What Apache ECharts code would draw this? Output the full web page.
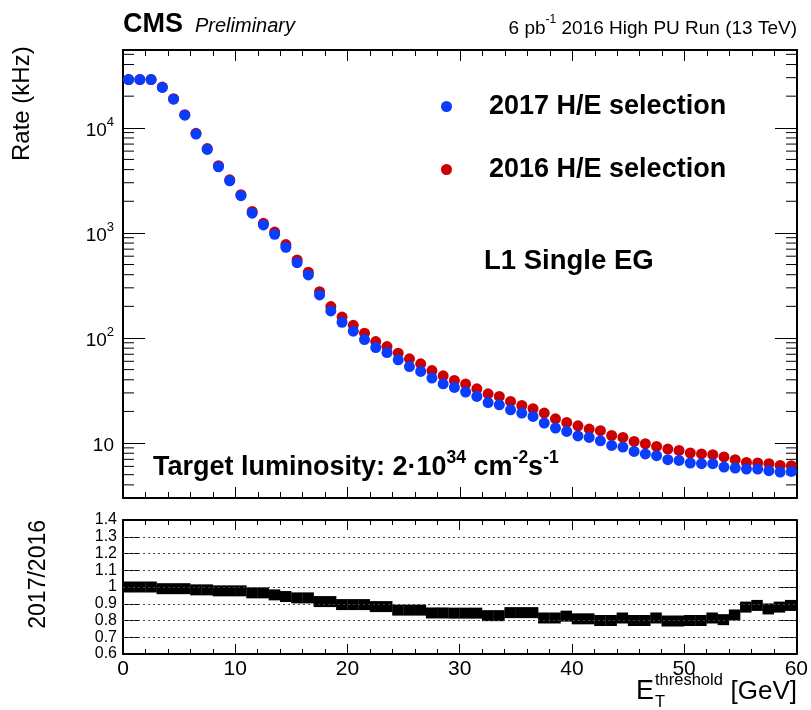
<!DOCTYPE html>
<html>
<head>
<meta charset="utf-8">
<script src="https://cdn.jsdelivr.net/npm/echarts@6/dist/echarts.min.js"></script>
<style>html,body{margin:0;padding:0;background:#fff}#c{width:811px;height:710px}</style>
</head>
<body>
<div id="c"></div>
<script>
// ---- data ----
const etBins = [0.5,1.5,2.5,3.5,4.5,5.5,6.5,7.5,8.5,9.5,10.5,11.5,12.5,13.5,14.5,15.5,16.5,17.5,18.5,19.5,
  20.5,21.5,22.5,23.5,24.5,25.5,26.5,27.5,28.5,29.5,30.5,31.5,32.5,33.5,34.5,35.5,36.5,37.5,38.5,39.5,
  40.5,41.5,42.5,43.5,44.5,45.5,46.5,47.5,48.5,49.5,50.5,51.5,52.5,53.5,54.5,55.5,56.5,57.5,58.5,59.5];
const rate2017 = [28800,28800,28800,24200,18700,13200,8710,6230,4260,3130,2260,1540,1190,970,730,521,398,257,181,141,
  116,96.6,81,72.6,61.9,53.5,48,41.5,36.6,33.8,30.6,27.8,24.3,23.1,20.7,19.3,17.9,15.5,13.9,12.9,
  11.7,11.3,10.5,9.5,9.16,8.32,7.87,7.58,6.95,6.84,6.46,6.36,6.36,5.91,5.78,5.66,5.66,5.46,5.30,5.37];
const rate2016 = [28800,28800,28800,24400,18900,13330,8860,6340,4360,3200,2310,1600,1233,1018,774,552,422,276,199,158,
  132,111,92.5,82.8,71.7,63.3,56.7,49,43.6,39.4,36.4,32.8,29.4,27.8,24.9,22.8,21.2,19.3,17.0,15.7,
  14.6,13.6,13.1,11.8,11.3,10.35,9.85,9.29,8.77,8.51,8.04,7.87,7.75,7.37,6.94,6.54,6.46,6.36,6.12,6.08];
const ratio = [1.0,1.0,1.0,0.99,0.99,0.99,0.983,0.983,0.977,0.977,0.977,0.965,0.965,0.953,0.943,0.935,0.935,0.913,0.913,0.895,
  0.895,0.895,0.883,0.883,0.862,0.862,0.862,0.845,0.845,0.844,0.844,0.844,0.829,0.829,0.847,0.847,0.847,0.815,0.815,0.826,
  0.81,0.81,0.80,0.80,0.815,0.80,0.80,0.815,0.797,0.797,0.80,0.80,0.815,0.805,0.833,0.88,0.89,0.869,0.88,0.89];
const seriesNames = ['2017 H/E selection', '2016 H/E selection'];
const logMajorLabels = [10, 100, 1000, 10000];
const logMinorTicks = [4,5,6,7,8,9,20,30,40,50,60,70,80,90,200,300,400,500,600,700,800,900,
  2000,3000,4000,5000,6000,7000,8000,9000,20000,30000,40000,50000];
const ratioGridValues = [0.7,0.8,0.9,1.0,1.1,1.2,1.3];

// ---- chart ----
const F = "'Liberation Sans', Arial, Helvetica, sans-serif";
const chart = echarts.init(document.getElementById('c'), null, {renderer: 'canvas'});

const axisLine = {show: true, onZero: false, lineStyle: {color: '#000', width: 2}};
function xAx(grid, pos, labels, tl, mtl) {
  return {
    type: 'value', gridIndex: grid, position: pos, min: 0, max: 60, interval: 10,
    axisLine: axisLine,
    axisTick: {show: true, inside: true, length: tl, lineStyle: {color: '#000', width: 1}},
    minorTick: {show: true, splitNumber: 5, length: mtl, lineStyle: {color: '#000', width: 1}},
    axisLabel: labels ? {show: true, fontFamily: F, fontSize: 21, color: '#000', margin: 5, interval: 0,
                         showMinLabel: true, showMaxLabel: true} : {show: false},
    splitLine: {show: false}
  };
}
function logAx(pos, labels) {
  return {
    type: 'log', logBase: 10, gridIndex: 0, position: pos, min: 3, max: 55000,
    axisLine: axisLine,
    axisTick: {show: true, inside: true, length: 22, lineStyle: {color: '#000', width: 1}},
    axisLabel: labels ? {
      show: true, margin: 9, color: '#000', fontFamily: F,
      showMinLabel: false, showMaxLabel: false,
      formatter: function (v) {
        const e = Math.round(Math.log10(v));
        if (Math.abs(Math.log10(v) - e) > 1e-6 || logMajorLabels.indexOf(Math.pow(10, e)) < 0) return '';
        if (e === 1) return '{b|10}';
        return '{b|10}{s|' + e + '}';
      },
      rich: {
        b: {fontSize: 19, fontFamily: F, color: '#000', lineHeight: 24, verticalAlign: 'bottom'},
        s: {fontSize: 13, fontFamily: F, color: '#000', lineHeight: 12, verticalAlign: 'top'}
      }
    } : {show: false},
    splitLine: {show: false}
  };
}
function ratioAx(pos, labels) {
  return {
    type: 'value', gridIndex: 1, position: pos, min: 0.6, max: 1.4, interval: 0.1,
    axisLine: axisLine,
    axisTick: {show: true, inside: true, length: 16, lineStyle: {color: '#000', width: 1}},
    axisLabel: labels ? {
      show: true, margin: 6, color: '#000', fontFamily: F, fontSize: 16, interval: 0,
      showMinLabel: true, showMaxLabel: true, hideOverlap: false,
      formatter: function (v) { return Math.abs(v - 1) < 1e-6 ? '1' : v.toFixed(1); }
    } : {show: false},
    splitLine: {show: false}
  };
}

const option = {
  animation: false,
  backgroundColor: '#fff',
  grid: [
    {left: 123, top: 50, right: 14, height: 448, containLabel: false},
    {left: 123, top: 520, right: 14, height: 134, containLabel: false}
  ],
  xAxis: [xAx(0, 'bottom', false, 11, 6), xAx(0, 'top', false, 11, 6), xAx(1, 'bottom', true, 10, 5), xAx(1, 'top', false, 10, 5)],
  yAxis: [logAx('left', true), logAx('right', false), ratioAx('left', true), ratioAx('right', false)],
  legend: {
    show: true, orient: 'vertical', left: 436, top: 88, itemGap: 36,
    icon: 'circle', itemWidth: 11, itemHeight: 11,
    data: [seriesNames[0], seriesNames[1]],
    textStyle: {fontFamily: F, fontWeight: 'bold', fontSize: 27, color: '#000', padding: [0, 0, 0, 32]}
  },
  series: [
    {
      name: seriesNames[1], type: 'scatter', xAxisIndex: 0, yAxisIndex: 0,
      symbol: 'circle', symbolSize: 11, itemStyle: {color: '#cc0000', opacity: 1},
      data: etBins.map((x, i) => [x, rate2016[i]])
    },
    {
      name: seriesNames[0], type: 'scatter', xAxisIndex: 0, yAxisIndex: 0,
      symbol: 'circle', symbolSize: 11, itemStyle: {color: '#0a3cff', opacity: 1},
      data: etBins.map((x, i) => [x, rate2017[i]])
    },
    {
      name: 'minorTicks', type: 'custom', xAxisIndex: 0, yAxisIndex: 0, silent: true, clip: false,
      data: logMinorTicks.map(v => [0, v]),
      renderItem: function (params, api) {
        const pl = api.coord([0, api.value(1)]);
        const pr = api.coord([60, api.value(1)]);
        const st = {stroke: '#000', lineWidth: 1};
        return {type: 'group', children: [
          {type: 'line', shape: {x1: pl[0], y1: pl[1], x2: pl[0] + 11, y2: pl[1]}, style: st},
          {type: 'line', shape: {x1: pr[0] - 11, y1: pr[1], x2: pr[0], y2: pr[1]}, style: st}
        ]};
      },
      z: 1
    },
    {
      name: 'ratio', type: 'scatter', xAxisIndex: 2, yAxisIndex: 2,
      symbol: 'rect', symbolSize: [11.5, 11], itemStyle: {color: '#000', opacity: 1},
      data: etBins.map((x, i) => [x, ratio[i]]),
      markLine: {
        silent: true, symbol: 'none', label: {show: false},
        lineStyle: {color: '#444', type: [2, 3], width: 1},
        data: ratioGridValues.map(v => ({yAxis: v}))
      },
      z: 3
    }
  ],
  graphic: [
    {type: 'text', x: 123, y: 25, style: {text: 'CMS', font: "bold 27px " + F, fill: '#000', textVerticalAlign: 'middle'}},
    {type: 'text', x: 195, y: 26, style: {text: 'Preliminary', font: "italic 20px " + F, fill: '#000', textVerticalAlign: 'middle'}},
    {type: 'text', x: 797, y: 26, style: {
      text: '{a|6 pb}{s|-1}{a| 2016 High PU Run (13 TeV)}', textAlign: 'right', textVerticalAlign: 'middle',
      rich: {a: {fontSize: 19, fontFamily: F, fill: '#000', lineHeight: 24, verticalAlign: 'bottom'},
             s: {fontSize: 12, fontFamily: F, fill: '#000', lineHeight: 13, verticalAlign: 'top'}}}},
    {type: 'text', x: 22, y: 161, rotation: Math.PI / 2, style: {text: 'Rate (kHz)', font: "24px " + F, fill: '#000', textAlign: 'left', textVerticalAlign: 'middle'}},
    {type: 'text', x: 39, y: 520, rotation: Math.PI / 2, style: {text: '2017/2016', font: "23px " + F, fill: '#000', textAlign: 'right', textVerticalAlign: 'middle'}},
    {type: 'text', x: 484, y: 261, style: {text: 'L1 Single EG', font: "bold 27.5px " + F, fill: '#000', textVerticalAlign: 'middle'}},
    {type: 'text', x: 153, y: 465, style: {
      text: '{b|Target luminosity: 2·10}{s|34}{b| cm}{s|-2}{b|s}{s|-1}', textVerticalAlign: 'middle',
      rich: {b: {fontSize: 27, fontWeight: 'bold', fontFamily: F, fill: '#000', lineHeight: 32, verticalAlign: 'bottom'},
             s: {fontSize: 17.5, fontWeight: 'bold', fontFamily: F, fill: '#000', lineHeight: 18, verticalAlign: 'top'}}}},
    {type: 'text', x: 654, y: 692, style: {text: 'E', font: "27px " + F, fill: '#000', textAlign: 'right', textVerticalAlign: 'middle'}},
    {type: 'text', x: 655, y: 680, style: {text: 'threshold', font: "16.5px " + F, fill: '#000', textVerticalAlign: 'middle'}},
    {type: 'text', x: 655, y: 702, style: {text: 'T', font: "16.5px " + F, fill: '#000', textVerticalAlign: 'middle'}},
    {type: 'text', x: 797, y: 692, style: {text: '[GeV]', font: "26px " + F, fill: '#000', textAlign: 'right', textVerticalAlign: 'middle'}}
  ]
};
chart.setOption(option);
</script>
</body>
</html>
